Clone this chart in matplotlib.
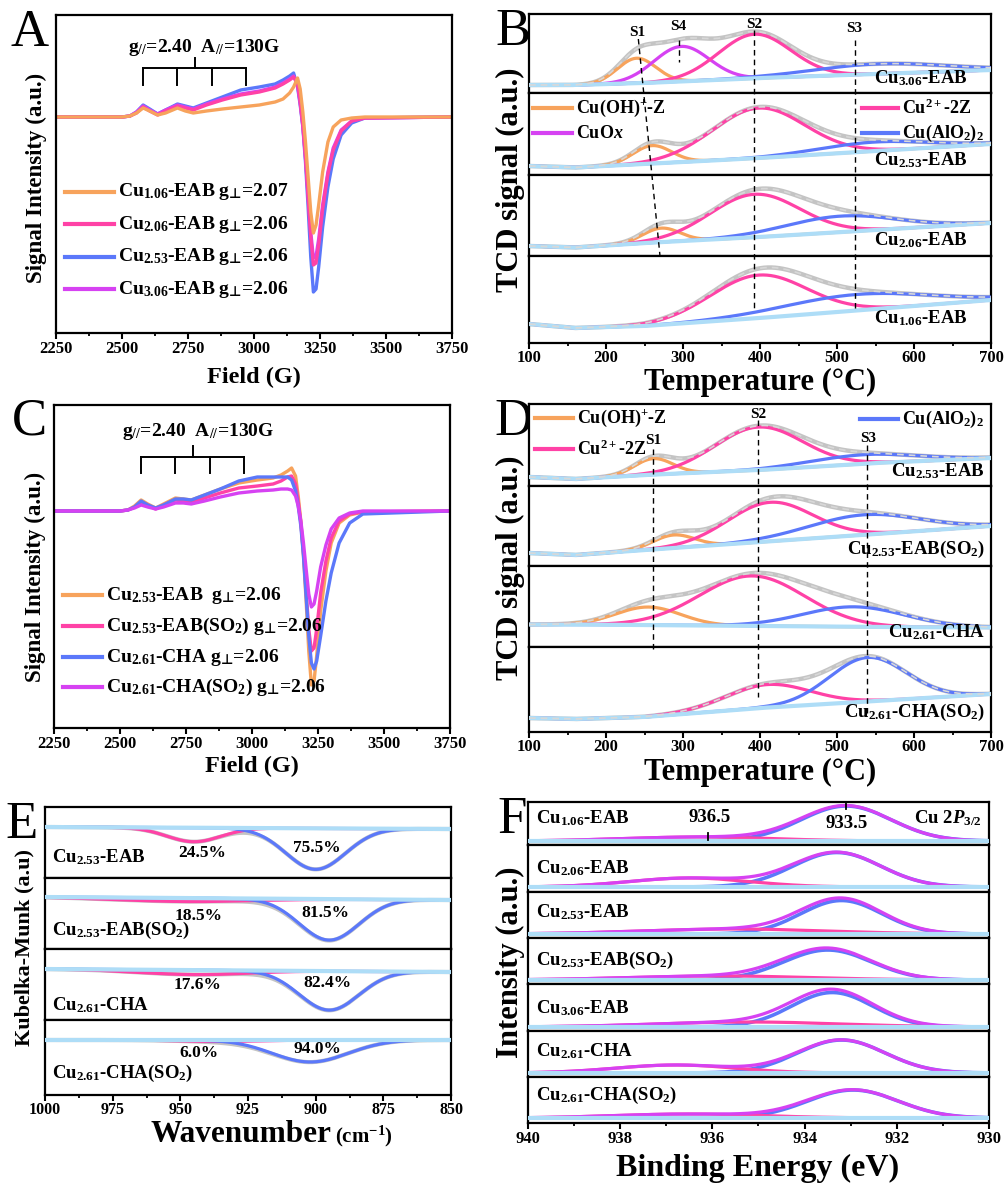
import numpy as np
import matplotlib
matplotlib.use('Agg')
import matplotlib.pyplot as plt
from matplotlib.lines import Line2D
from matplotlib.ticker import MultipleLocator

plt.rcParams['font.family'] = ['Liberation Serif', 'DejaVu Serif']
plt.rcParams['font.weight'] = 'bold'
plt.rcParams['mathtext.fontset'] = 'custom'
plt.rcParams['mathtext.rm'] = 'Liberation Serif:bold'
plt.rcParams['mathtext.it'] = 'Liberation Serif:italic:bold'
plt.rcParams['mathtext.bf'] = 'Liberation Serif:bold'
plt.rcParams['mathtext.sf'] = 'DejaVu Sans:bold'
plt.rcParams['mathtext.default'] = 'rm'

ORANGE = '#F7A35C'
PINK = '#FF42A6'
BLUE = '#5B78FA'
MAGENTA = '#D642F2'
LBLUE = '#AEDDF7'
GRAY = '#C4C4C4'

PERP = '$_{\\mathsf{\u22a5}}$'

# ---------------- EPR data (A, C) ----------------
epr_field = [2250, 2500, 2530, 2555, 2580, 2605, 2635, 2665, 2710, 2740, 2770, 2820, 2880,
             2950, 3020, 3080, 3110, 3135, 3150, 3165, 3175, 3185, 3195, 3205, 3215, 3225,
             3235, 3245, 3260, 3280, 3300, 3330, 3370, 3420, 3750]
A_labels = ['Cu$_{1.06}$-EAB g' + PERP + '=2.07', 'Cu$_{2.06}$-EAB g' + PERP + '=2.06',
            'Cu$_{2.53}$-EAB g' + PERP + '=2.06', 'Cu$_{3.06}$-EAB g' + PERP + '=2.06']
A_cu106 = [0, 0, 1, 4, 9, 6, 2, 4, 9, 6, 4, 6, 8, 10, 12, 15, 18, 24, 30, 39, 28, 5, -25, -60,
           -95, -116, -108, -88, -55, -25, -10, -3, -1, 0, 0]
A_cu206 = [0, 0, 1, 4, 10, 6, 2, 6, 11, 9, 7, 12, 17, 22, 25, 29, 33, 37, 40, 34, 15, -8, -40,
           -80, -120, -148, -146, -128, -92, -57, -33, -14, -4, -1, 0]
A_cu253 = [0, 0, 1, 5, 12, 8, 3, 7, 13, 11, 9, 14, 20, 27, 30, 33, 37, 41, 44, 30, 12, -10, -45,
           -90, -140, -175, -172, -150, -110, -70, -42, -18, -6, -1, 0]
A_cu306 = [0, 0, 1, 5, 11, 7, 3, 7, 12, 10, 8, 13, 18, 23, 26, 30, 34, 38, 41, 32, 14, -9, -40,
           -78, -115, -141, -139, -122, -88, -55, -31, -13, -4, -1, 0]

C_labels = ['Cu$_{2.53}$-EAB  g' + PERP + '=2.06', 'Cu$_{2.53}$-EAB(SO$_2$) g' + PERP + '=2.06',
            'Cu$_{2.61}$-CHA g' + PERP + '=2.06', 'Cu$_{2.61}$-CHA(SO$_2$) g' + PERP + '=2.06']
C_eab = [0, 0, 1, 5, 11, 7, 3, 7, 13, 12, 11, 16, 22, 28, 31, 33, 36, 40, 43, 35, 15, -10, -45,
         -90, -140, -174, -170, -145, -100, -60, -32, -12, -4, -1, 0]
C_eab_so2 = [0, 0, 1, 4, 9, 6, 2, 6, 11, 10, 9, 13, 18, 23, 25, 27, 30, 34, 35, 27, 10, -12, -42,
             -80, -118, -140, -137, -118, -82, -50, -27, -10, -3, -1, 0]
C_cha = [0, 0, 1, 4, 10, 6, 3, 6, 12, 12, 11, 16, 22, 30, 34, 34, 34, 34, 31, 20, 5, -15, -45,
         -85, -125, -152, -158, -150, -125, -90, -62, -32, -12, -3, 0]
C_cha_so2 = [0, 0, 1, 3, 6, 4, 2, 4, 8, 8, 7, 10, 14, 18, 20, 21, 22, 22, 21, 15, 5, -10, -32,
             -58, -83, -96, -93, -80, -56, -34, -18, -7, -2, 0, 0]
hf_lines = [2580, 2710, 2840, 2970]

# ---------------- TPR data (B, D) : (center, height, width) ----------------
base_T = [100, 160, 250, 400, 550, 700]
B_labels = ['Cu$_{3.06}$-EAB', 'Cu$_{2.53}$-EAB', 'Cu$_{2.06}$-EAB', 'Cu$_{1.06}$-EAB']
B_base = [[8, 8, 10, 15, 19, 23], [9, 7.5, 11, 17, 24, 31], [10, 8.5, 13, 19, 26, 33],
          [19, 15, 17, 25, 34, 43]]
B_oh = [(240, 25, 25), (260, 18, 25), (272, 14, 24), None]
B_cuox = [(298, 35, 36), None, None, None]
B_cu2z = [(393, 44, 47), (398, 50, 60), (393, 43, 58), (398, 43, 62)]
B_alo2 = [(555, 10, 85), (548, 9, 72), (505, 16, 72), (525, 16, 95)]

D_labels = ['Cu$_{2.53}$-EAB', 'Cu$_{2.53}$-EAB(SO$_2$)', 'Cu$_{2.61}$-CHA', 'Cu$_{2.61}$-CHA(SO$_2$)']
D_base = [[9, 7, 11, 16, 23, 28], [13, 11, 16, 24, 32, 40], [22.5, 22.5, 22, 21, 20, 19.5],
          [14, 13, 15, 24, 31, 38]]
D_oh = [(262, 16, 25), (288, 13, 27), (255, 18, 42), None]
D_cu2z = [(398, 43, 57), (413, 39, 55), (390, 50, 68), (410, 23, 55)]
D_alo2 = [(535, 9, 70), (535, 20, 72), (522, 20, 66), (540, 44, 50)]

# ---------------- UV-vis / DRIFTS data (E) ----------------
E_labels = ['Cu$_{2.53}$-EAB', 'Cu$_{2.53}$-EAB(SO$_2$)', 'Cu$_{2.61}$-CHA', 'Cu$_{2.61}$-CHA(SO$_2$)']
E_base = [(51, 49), (52, 49), (51, 48), (55, 55)]
E_pink = [(945, -14, 10), (948, -3.5, 25), (945, -4.5, 20), (935, -1.5, 15)]
E_blue = [(900, -41, 11), (895, -41, 11), (895, -39, 11), (902, -22, 14)]
E_pct_low = ['24.5%', '18.5%', '17.6%', '6.0%']
E_pct_high = ['75.5%', '81.5%', '82.4%', '94.0%']

# ---------------- XPS data (F) ----------------
F_labels = ['Cu$_{1.06}$-EAB', 'Cu$_{2.06}$-EAB', 'Cu$_{2.53}$-EAB', 'Cu$_{2.53}$-EAB(SO$_2$)',
            'Cu$_{3.06}$-EAB', 'Cu$_{2.61}$-CHA', 'Cu$_{2.61}$-CHA(SO$_2$)']
F_base = [4, 5, 4, 4, 4, 4, 5]
F_main = [(933.1, 35, 0.98), (933.3, 34.5, 0.95), (933.2, 33.5, 0.88), (933.5, 30, 0.95),
          (933.4, 34.5, 0.88), (933.2, 33, 0.95), (932.95, 28, 0.98)]
F_sat = [(936.3, 4, 1.6), (936.5, 9, 1.3), (935.5, 5, 2.0), (935.8, 4, 2.0), (935.2, 5, 2.0),
         (936.8, 8, 1.3), (936.5, 4, 1.6)]

# ---------------- helpers ----------------
W, H = 1008, 1184
fig = plt.figure(figsize=(W / 100, H / 100), dpi=100)


def rect(l, r, t, b):
    return [l / W, 1 - b / H, (r - l) / W, (b - t) / H]


def ftext(x, y, s, **kw):
    return fig.text(x / W, 1 - y / H, s, **kw)


def fline(x1, x2, y1, y2, **kw):
    fig.add_artist(Line2D([x1 / W, x2 / W], [1 - y1 / H, 1 - y2 / H], transform=fig.transFigure, **kw))


def gauss(x, p):
    if p is None:
        return np.zeros_like(x)
    c, a, s = p
    return a * np.exp(-(x - c) ** 2 / (2 * s ** 2))


def frame(ax, lw=1.6):
    for s in ax.spines.values():
        s.set_linewidth(lw)
    ax.set_yticks([])


def xticks(ax, major, minor, size=12, pad=2):
    ax.xaxis.set_major_locator(MultipleLocator(major))
    ax.xaxis.set_minor_locator(MultipleLocator(minor))
    ax.tick_params(axis='x', which='major', direction='out', length=4, width=1.5, labelsize=size, pad=pad)
    ax.tick_params(axis='x', which='minor', direction='out', length=2.5, width=1.3)


def letter(x, y, s):
    ftext(x, y, s, fontsize=38, fontweight='normal', ha='center', va='center', zorder=-5)


# ---------------- EPR panels ----------------
def epr_panel(l, r, t, b, base_px, series, colors, labels, order, leg_x, leg_y, brk, txt):
    ax = fig.add_axes(rect(l, r, t, b))
    ax.set_xlim(2250, 3750)
    ax.set_ylim(base_px - b, base_px - t)
    for i in order:
        ax.plot(epr_field, series[i], color=colors[i], lw=2.4, solid_capstyle='round')
    frame(ax)
    xticks(ax, 250, 125)
    ly, yb, ys = brk
    ax.plot([hf_lines[0], hf_lines[-1]], [ly, ly], color='k', lw=1.4)
    for h in hf_lines:
        ax.plot([h, h], [ly, yb], color='k', lw=1.4)
    ax.plot([2775, 2775], [ly, ys], color='k', lw=1.4)
    ax.text(txt[0], txt[1], 'g$_{//}$=2.40  A$_{//}$=130G', fontsize=14, ha='center', va='center')
    for i in range(4):
        fline(leg_x[0], leg_x[1], leg_y[i], leg_y[i], color=colors[i], lw=3)
        ftext(leg_x[1] + 4, leg_y[i], labels[i], fontsize=14, ha='left', va='center')
    return ax


epr_colors = [ORANGE, PINK, BLUE, MAGENTA]
axA = epr_panel(56, 452, 15, 333, 117, [A_cu106, A_cu206, A_cu253, A_cu306], epr_colors, A_labels,
                [2, 3, 1, 0], (65, 114), [192, 224, 257, 289], (49, 32, 59), (2812, 70))
ftext(254, 377, 'Field (G)', fontsize=17.5, ha='center', va='center')
ftext(36, 178, 'Signal Intensity (a.u.)', fontsize=16.5, ha='center', va='center', rotation=90)
letter(30, 33, 'A')

axC = epr_panel(54, 450, 405, 728, 511, [C_eab, C_eab_so2, C_cha, C_cha_so2], epr_colors, C_labels,
                [0, 1, 2, 3], (63, 102), [595, 626, 657, 687], (54, 38, 65), (2795, 79))
ftext(252, 766, 'Field (G)', fontsize=17.5, ha='center', va='center')
ftext(35, 577, 'Signal Intensity (a.u.)', fontsize=16.5, ha='center', va='center', rotation=90)
letter(29, 422, 'C')


# ---------------- stacked panels ----------------
def stack(l, r, bounds, xlim):
    axes = []
    for i in range(len(bounds) - 1):
        t, b = bounds[i], bounds[i + 1]
        ax = fig.add_axes(rect(l, r, t, b))
        ax.set_xlim(*xlim)
        ax.set_ylim(0, b - t)
        frame(ax)
        if i < len(bounds) - 2:
            ax.set_xticks([])
        axes.append(ax)
    return axes


T = np.linspace(100, 700, 601)


def tpr_sub(ax, base, comps):
    bl = np.interp(T, base_T, base)
    total = bl.copy()
    for p, c in comps:
        total = total + gauss(T, p)
    ax.plot(T, total, color=GRAY, lw=3.2, zorder=1)
    for p, c in comps:
        if p is not None:
            ax.plot(T, bl + gauss(T, p), color=c, lw=2.3, zorder=3)
    ax.plot(T, bl, color=LBLUE, lw=3.0, zorder=3.5)
    ax.plot(T, total, color='#D8D8D8', lw=1.2, ls=(0, (4, 3)), zorder=4)


# Panel B
B_bounds = [14, 93, 175, 256, 343]
axB = stack(529, 991, B_bounds, (100, 700))
for i, ax in enumerate(axB):
    tpr_sub(ax, B_base[i], [(B_oh[i], ORANGE), (B_cuox[i], MAGENTA), (B_cu2z[i], PINK), (B_alo2[i], BLUE)])
xticks(axB[-1], 100, 50, size=12, pad=1)
ovB = fig.add_axes(rect(529, 991, 14, 343), facecolor='none')
ovB.set_xlim(100, 700)
ovB.set_ylim(343, 14)
ovB.axis('off')
dash = dict(color='k', lw=1.0, ls=(0, (4, 3)))
ovB.plot([242, 270], [39, 255], **dash)
ovB.plot([295, 295], [40, 62], **dash)
ovB.plot([392, 392], [30, 310], **dash)
ovB.plot([523, 523], [40, 310], **dash)
for s, x, y in [('S1', 241, 33), ('S4', 294, 27), ('S2', 393, 24), ('S3', 522, 29)]:
    ovB.text(x, y, s, fontsize=11, ha='center', va='center')
for lab, y in zip(B_labels, [78, 160, 240, 318]):
    ftext(968, y, lab, fontsize=13.5, ha='right', va='center')
for (x1, x2, y, c, s) in [(533, 572, 108, ORANGE, 'Cu(OH)$^{+}$-Z'), (533, 572, 133, MAGENTA, 'CuO$\\mathit{x}$'),
                          (862, 898, 108, PINK, 'Cu$^{2+}$-2Z'), (862, 898, 133, BLUE, 'Cu(AlO$_2$)$_2$')]:
    fline(x1, x2, y, y, color=c, lw=3)
    ftext(x2 + 4, y, s, fontsize=13, ha='left', va='center')
ftext(760, 382, 'Temperature (°C)', fontsize=22, ha='center', va='center')
ftext(510, 180, 'TCD signal (a.u.)', fontsize=22, ha='center', va='center', rotation=90)
letter(513, 32, 'B')

# Panel D
D_bounds = [404, 486, 566, 647, 732]
axD = stack(529, 991, D_bounds, (100, 700))
for i, ax in enumerate(axD):
    tpr_sub(ax, D_base[i], [(D_oh[i], ORANGE), (D_cu2z[i], PINK), (D_alo2[i], BLUE)])
xticks(axD[-1], 100, 50, size=12, pad=1)
ovD = fig.add_axes(rect(529, 991, 404, 732), facecolor='none')
ovD.set_xlim(100, 700)
ovD.set_ylim(732, 404)
ovD.axis('off')
ovD.plot([261, 261], [449, 651], **dash)
ovD.plot([397, 397], [420, 697], **dash)
ovD.plot([539, 539], [445, 713], **dash)
for s, x, y in [('S1', 262, 440), ('S2', 398, 415), ('S3', 540, 438)]:
    ovD.text(x, y, s, fontsize=11, ha='center', va='center')
for lab, y in zip(D_labels, [471, 549, 632, 712]):
    ftext(985, y, lab, fontsize=13.5, ha='right', va='center')
for (x1, x2, y, c, s) in [(535, 573, 418, ORANGE, 'Cu(OH)$^{+}$-Z'), (535, 573, 449, PINK, 'Cu$^{2+}$-2Z'),
                          (860, 898, 419, BLUE, 'Cu(AlO$_2$)$_2$')]:
    fline(x1, x2, y, y, color=c, lw=3)
    ftext(x2 + 4, y, s, fontsize=13, ha='left', va='center')
ftext(760, 772, 'Temperature (°C)', fontsize=22, ha='center', va='center')
ftext(510, 568, 'TCD signal (a.u.)', fontsize=22, ha='center', va='center', rotation=90)
letter(513, 422, 'D')

# Panel E
E_bounds = [807, 878, 949, 1020, 1095]
axE = stack(45, 451, E_bounds, (1000, 850))
wn = np.linspace(850, 1000, 601)
for i, ax in enumerate(axE):
    bl = np.interp(wn, [850, 1000], [E_base[i][1], E_base[i][0]])
    pk = gauss(wn, E_pink[i])
    bk = gauss(wn, E_blue[i])
    ax.plot(wn, bl + pk + bk, color=GRAY, lw=3.0, zorder=1)
    ax.plot(wn, bl + pk, color=PINK, lw=2.3, zorder=2)
    ax.plot(wn, bl + bk, color=BLUE, lw=2.3, zorder=3)
    ax.plot(wn, bl, color=LBLUE, lw=3.0, zorder=4)
xticks(axE[-1], 25, 12.5, size=11.5, pad=1)
for lab, y in zip(E_labels, [857, 930, 1005, 1073]):
    ftext(52, y, lab, fontsize=13.5, ha='left', va='center')
for s, (x, y) in zip(E_pct_low, [(202, 853), (199, 916), (198, 985), (199, 1053)]):
    ftext(x, y, s, fontsize=12.5, ha='center', va='center')
for s, (x, y) in zip(E_pct_high, [(317, 848), (325, 913), (327, 983), (317, 1049)]):
    ftext(x, y, s, fontsize=12.5, ha='center', va='center')
ftext(331, 1142, 'Wavenumber', fontsize=22.5, ha='right', va='baseline')
ftext(335, 1142, '(cm$^{-1}$)', fontsize=15, ha='left', va='baseline')
ftext(24, 947, 'Kubelka-Munk (a.u)', fontsize=16, ha='center', va='center', rotation=90)
letter(22, 825, 'E')

# Panel F
F_bounds = [802, 845, 892, 938, 984, 1031, 1077, 1123]
axF = stack(528, 989, F_bounds, (940, 930))
be = np.linspace(930, 940, 801)
for i, ax in enumerate(axF):
    bl = np.full_like(be, F_base[i])
    m = gauss(be, F_main[i])
    s = gauss(be, F_sat[i])
    ax.plot(be, bl + m, color=BLUE, lw=2.6, zorder=2)
    ax.plot(be, bl + s, color=PINK, lw=2.3, zorder=3)
    ax.plot(be, bl + m + s, color=MAGENTA, lw=2.3, zorder=4)
    ax.plot(be, bl, color=LBLUE, lw=3.0, zorder=5)
xticks(axF[-1], 2, 1)
axF[0].plot([936.1, 936.1], [5, 12], color='k', lw=1.3, zorder=6)
axF[0].plot([933.1, 933.1], [36, 43], color='k', lw=1.3, zorder=6)
ftext(710, 818, '936.5', fontsize=13.5, ha='center', va='center')
ftext(847, 823, '933.5', fontsize=13.5, ha='center', va='center')
ftext(982, 818, 'Cu $\\mathit{2P}_{3/2}$', fontsize=13.5, ha='right', va='center')
for lab, y in zip(F_labels, [818, 868, 912, 960, 1008, 1051, 1095]):
    ftext(536, y, lab, fontsize=13.5, ha='left', va='center')
ftext(758, 1168, 'Binding Energy (eV)', fontsize=23, ha='center', va='center')
ftext(510, 962, 'Intensity (a.u.)', fontsize=22, ha='center', va='center', rotation=90)
letter(512, 820, 'F')

fig.savefig('out.png', dpi=100)
